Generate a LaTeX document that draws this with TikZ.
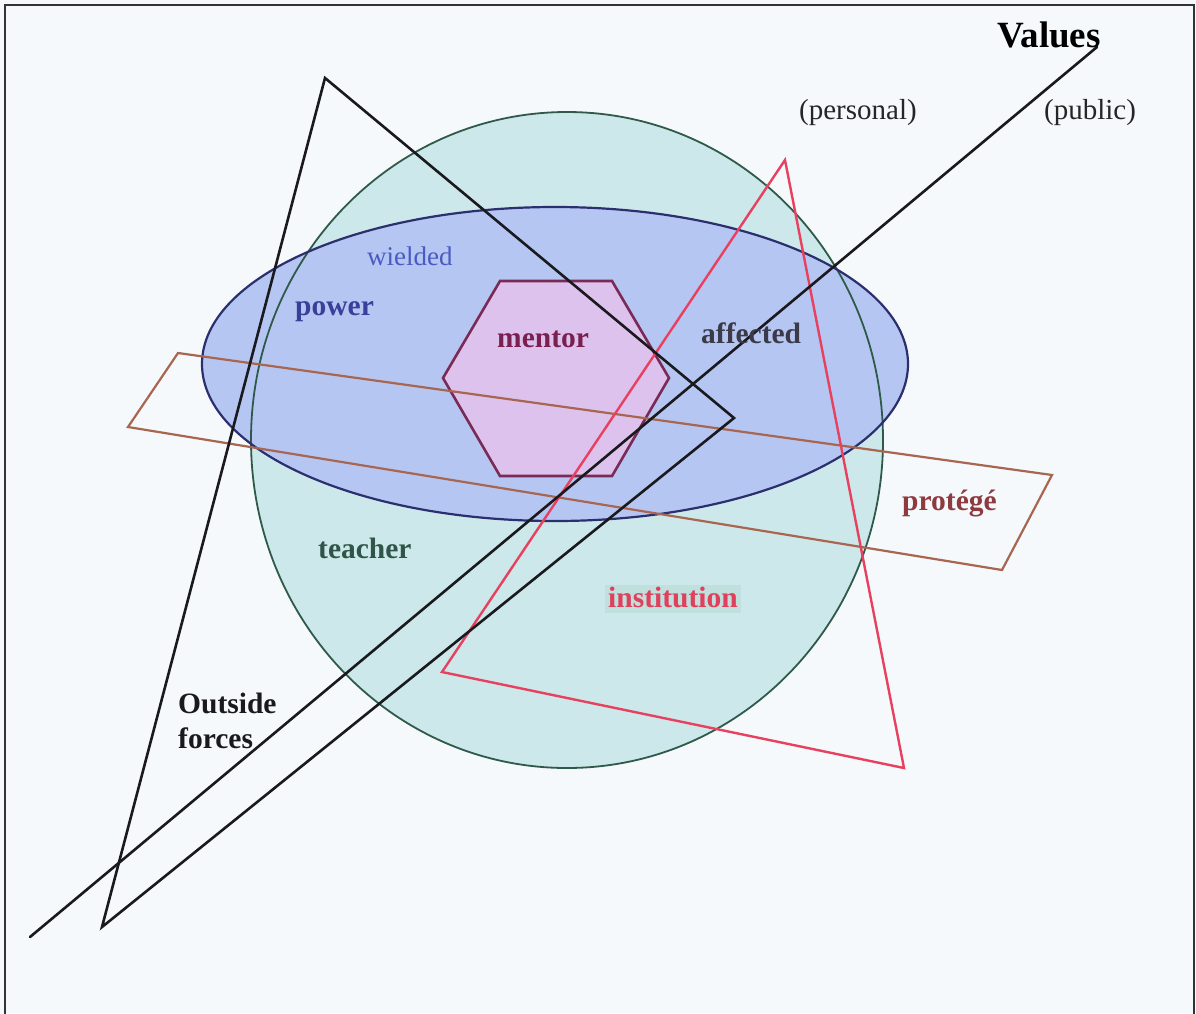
\documentclass[tikz,border=0pt]{standalone}
\usepackage{fontspec}
\setmainfont{Liberation Serif}
\definecolor{bgcol}{HTML}{F5F9FC}
\definecolor{circfill}{HTML}{CDE8EA}
\definecolor{circline}{HTML}{2F5A4A}
\definecolor{ellfill}{HTML}{B6C6F2}
\definecolor{ellline}{HTML}{2C2F6E}
\definecolor{hexfill}{HTML}{DEC2EE}
\definecolor{hexline}{HTML}{7A2B55}
\definecolor{paraline}{HTML}{A86650}
\definecolor{redline}{HTML}{E8405F}
\definecolor{blkline}{HTML}{1A1A1E}
\definecolor{instbg}{HTML}{BFE0DC}
\definecolor{wieldcol}{HTML}{4A5AC2}
\definecolor{powercol}{HTML}{38409A}
\definecolor{mentorcol}{HTML}{7A2050}
\definecolor{affcol}{HTML}{3A3A48}
\definecolor{protcol}{HTML}{8E3B40}
\definecolor{teachcol}{HTML}{2F5548}
\definecolor{instcol}{HTML}{E0405C}
\begin{document}
\begin{tikzpicture}[x=1pt,y=-1pt,
  lblb/.style={anchor=base west, inner sep=0pt, font=\fontsize{29.5}{30}\selectfont\bfseries},
  lblr/.style={anchor=base west, inner sep=0pt, font=\fontsize{29}{30}\selectfont},
  blk/.style={draw=blkline, line width=2.6pt},
  frameline/.style={draw=black!80, line width=2pt}]
\useasboundingbox (0,0) rectangle (1196,1013);
\fill[bgcol] (0,0) rectangle (1196,1013);
% frame
\draw[frameline] (5,1020) -- (5,5) -- (1194,5) -- (1194,1020);
% big circle and power ellipse
\fill[circfill] (567,440) ellipse [x radius=316pt, y radius=328pt];
\fill[ellfill] (555,364) ellipse [x radius=353pt, y radius=157pt];
\draw[circline, line width=1.8pt] (567,440) ellipse [x radius=316pt, y radius=328pt];
\draw[ellline, line width=2.2pt] (555,364) ellipse [x radius=353pt, y radius=157pt];
% hexagon
\draw[hexline, fill=hexfill, line width=2.6pt] (443,378) -- (500,281) -- (612,281) -- (669,378) -- (612,476) -- (500,476) -- cycle;
% institution highlight
\fill[instbg] (605,585) rectangle (741,613);
% quadrilateral (protege)
\coordinate (q1) at (178,353);
\coordinate (q2) at (1052,475);
\coordinate (q3) at (1002,570);
\coordinate (q4) at (128,427);
\draw[paraline, line width=2.2pt] (q1) -- (q2) -- (q3) -- (q4) -- cycle;
% red triangle (institution)
\coordinate (r1) at (785,160);
\coordinate (r2) at (904,768);
\coordinate (r3) at (442,672);
\draw[redline, line width=2.4pt] (r1) -- (r2) -- (r3) -- cycle;
% black triangle (outside forces)
\coordinate (t1) at (325,78);
\coordinate (t2) at (734,418);
\coordinate (t3) at (102,927);
\draw[blk] (t1) -- (t2) -- (t3) -- cycle;
% values line
\coordinate (v1) at (1097,47);
\coordinate (v2) at (30,937);
\draw[blk, line cap=round] (v1) -- (v2);
% labels
\node[lblb, font=\fontsize{37}{38}\selectfont\bfseries, text=black] (values) at (997,47) {Values};
\node[lblr, text=black!85] (personal) at (799,119) {(personal)};
\node[lblr, text=black!85] (public) at (1044,119) {(public)};
\node[lblr, font=\fontsize{27}{28}\selectfont, text=wieldcol] (wielded) at (367,265) {wielded};
\node[lblb, text=powercol] (power) at (295,315) {power};
\node[lblb, text=mentorcol] (mentor) at (497,347) {mentor};
\node[lblb, text=affcol] (affected) at (701,343) {affected};
\node[lblb, text=protcol] (protege) at (902,510) {protégé};
\node[lblb, text=teachcol] (teacher) at (318,558) {teacher};
\node[lblb, text=instcol] (institution) at (608,607) {institution};
\node[lblb, text=blkline] (outside) at (178,713) {Outside};
\node[lblb, text=blkline] (forces) at (178,748) {forces};
\end{tikzpicture}
\end{document}
